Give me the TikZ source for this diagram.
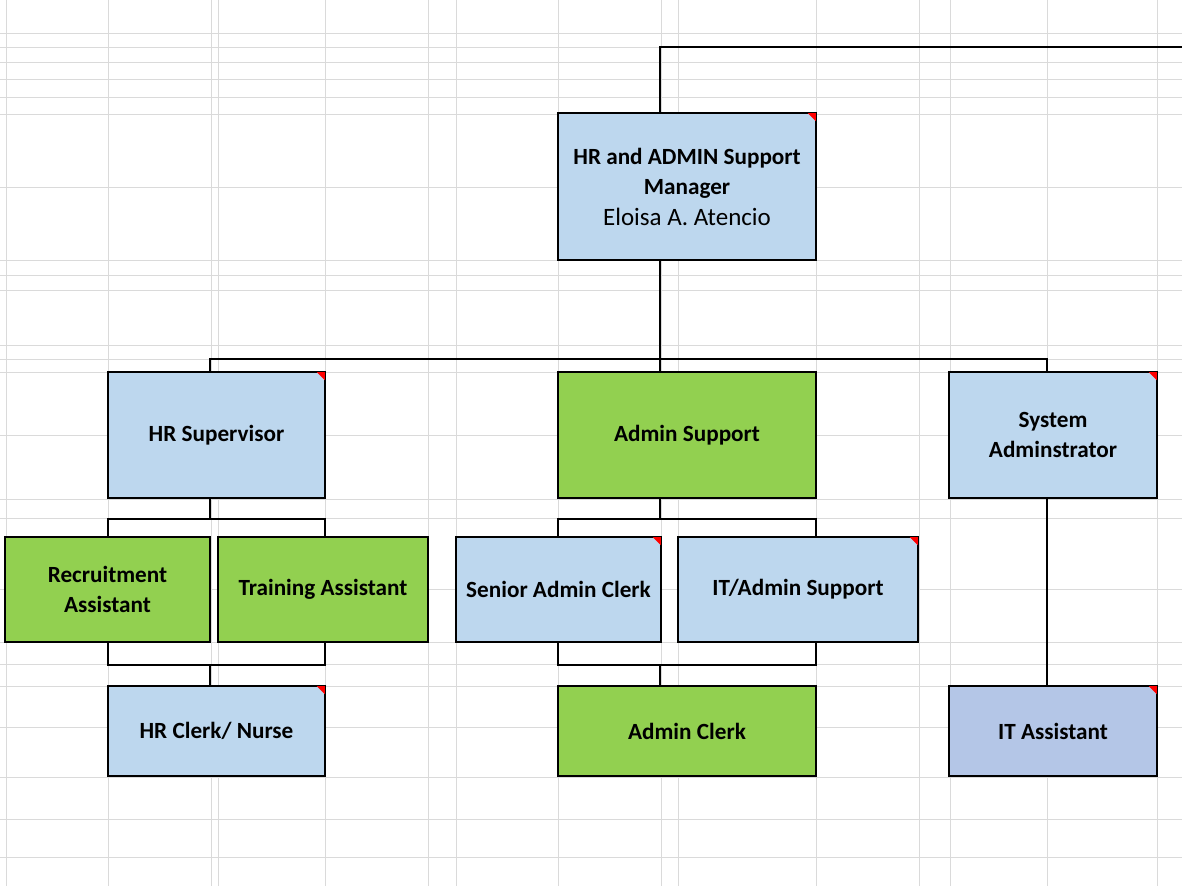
\documentclass[tikz,border=0pt]{standalone}
\usepackage{fontspec}
\setmainfont{Carlito}
\definecolor{roleblue}{HTML}{BDD7EE}
\definecolor{rolegreen}{HTML}{92D050}
\definecolor{roleslate}{HTML}{B4C6E7}
\definecolor{gridgray}{HTML}{DADADA}
\begin{document}
\begin{tikzpicture}[x=1pt,y=-1pt,
    gridline/.style={draw=gridgray,line width=1pt},
    link/.style={draw=black,line width=1.6pt},
    role/.style={draw=black,line width=1.6pt,align=center,inner sep=0pt,
      font=\bfseries\fontsize{23.2}{30}\selectfont},
    bluerole/.style={role,fill=roleblue},
    greenrole/.style={role,fill=rolegreen},
    slaterole/.style={role,fill=roleslate}]
    \fill[white] (0,0) rectangle (1182,886);
    \useasboundingbox (0,0) rectangle (1182,886);

    \foreach \x in {6,108,211,218,325,428,456,558,661,678,816,919,950,1047,1157}
        \draw[gridline] (\x,0) -- (\x,886);
    \foreach \y in {33,47,62,79,97,114,187,260,275,290,345,359,372,435,499,518,589,642,664,686,727,777,819,857}
        \draw[gridline] (0,\y) -- (1182,\y);

    \node[bluerole,minimum width=258pt,minimum height=147pt] (mgr) at (687,186.5)
        {HR and ADMIN Support\\Manager\\[1pt]{\mdseries\fontsize{25}{31}\selectfont Eloisa A. Atencio}};

    \node[bluerole,minimum width=217pt,minimum height=126pt] (hrsup) at (216.5,435) {HR Supervisor};
    \node[greenrole,minimum width=258pt,minimum height=126pt] (admsup) at (687,435) {Admin Support};
    \node[bluerole,minimum width=208pt,minimum height=126pt] (sysadm) at (1053,435) {System\\Adminstrator};

    \node[greenrole,minimum width=205pt,minimum height=105pt] (recr) at (107.5,589.5) {Recruitment\\Assistant};
    \node[greenrole,minimum width=210pt,minimum height=105pt] (train) at (323,589.5) {Training Assistant};
    \node[bluerole,minimum width=205pt,minimum height=105pt] (senclerk) at (558.5,589.5) {Senior Admin Clerk};
    \node[bluerole,minimum width=240pt,minimum height=105pt] (itadm) at (798,589.5) {IT/Admin Support};

    \node[bluerole,minimum width=217pt,minimum height=90pt] (hrclerk) at (216.5,731) {HR Clerk/ Nurse};
    \node[greenrole,minimum width=258pt,minimum height=90pt] (admclerk) at (687,731) {Admin Clerk};
    \node[slaterole,minimum width=208pt,minimum height=90pt] (itasst) at (1053,731) {IT Assistant};

    \coordinate (offpage) at (1182,47);

    \draw[link] ([xshift=-27pt]mgr.north) |- (offpage);
    \draw[link] ([xshift=-27pt]mgr.south) -- ++(0,98) -| ([xshift=-6.5pt]hrsup.north);
    \draw[link] ([xshift=-27pt]mgr.south) -- ++(0,98) -| ([xshift=-27pt]admsup.north);
    \draw[link] ([xshift=-27pt]mgr.south) -- ++(0,98) -| ([xshift=-6pt]sysadm.north);

    \draw[link] ([xshift=-6.5pt]hrsup.south) -- ++(0,20) -| ([xshift=0.5pt]recr.north);
    \draw[link] ([xshift=-6.5pt]hrsup.south) -- ++(0,20) -| ([xshift=2pt]train.north);
    \draw[link] ([xshift=0.5pt]recr.south) -- ++(0,22) -| ([xshift=-6.5pt]hrclerk.north);
    \draw[link] ([xshift=2pt]train.south) -- ++(0,22) -| ([xshift=-6.5pt]hrclerk.north);

    \draw[link] ([xshift=-27pt]admsup.south) -- ++(0,20) -| ([xshift=-0.5pt]senclerk.north);
    \draw[link] ([xshift=-27pt]admsup.south) -- ++(0,20) -| ([xshift=18pt]itadm.north);
    \draw[link] ([xshift=-0.5pt]senclerk.south) -- ++(0,22) -| ([xshift=-27pt]admclerk.north);
    \draw[link] ([xshift=18pt]itadm.south) -- ++(0,22) -| ([xshift=-27pt]admclerk.north);

    \draw[link] ([xshift=-6pt]sysadm.south) -- ([xshift=-6pt]itasst.north);

    \foreach \n in {mgr,hrsup,sysadm,senclerk,itadm,hrclerk,itasst}
        \fill[red] ([xshift=-1pt,yshift=-1pt]\n.north east) -- ++(-8,0) -- ++(8,8) -- cycle;
\end{tikzpicture}
\end{document}
